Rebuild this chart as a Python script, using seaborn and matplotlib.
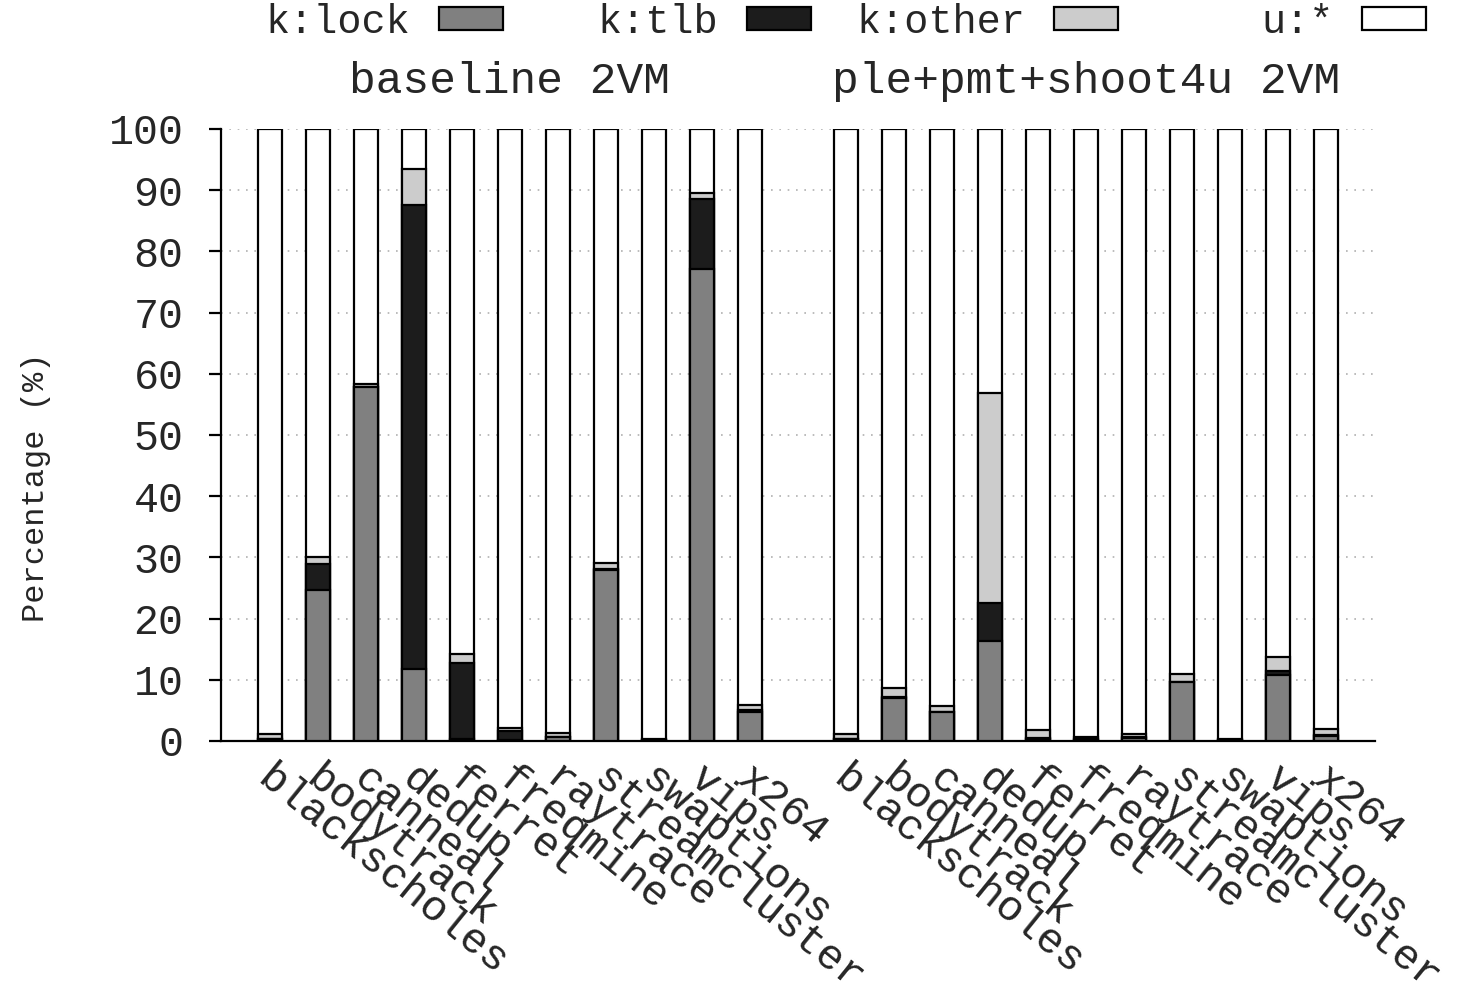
import numpy as np
import pandas as pd
import seaborn as sns
import matplotlib.pyplot as plt
from matplotlib.patches import Patch
from matplotlib.transforms import blended_transform_factory, ScaledTranslation

benchmarks = ["blackscholes", "bodytrack", "canneal", "dedup", "ferret", "freqmine",
              "raytrace", "streamcluster", "swaptions", "vips", "x264"]
groups = ["baseline 2VM", "ple+pmt+shoot4u 2VM"]

# percentages (u:* is the rest up to 100)
base_lock = [0.3, 24.7, 57.8, 11.7, 0.3, 0.1, 0.6, 27.9, 0.1, 77.2, 4.8]
base_tlb = [0.1, 4.3, 0.1, 75.9, 12.5, 1.6, 0.1, 0.2, 0.1, 11.4, 0.2]
base_other = [0.8, 1.0, 0.4, 5.8, 1.4, 0.5, 0.6, 1.0, 0.1, 0.9, 0.9]

ple_lock = [0.3, 7.1, 4.7, 16.3, 0.4, 0.2, 0.5, 9.6, 0.1, 10.8, 0.8]
ple_tlb = [0.1, 0.1, 0.1, 6.2, 0.1, 0.1, 0.1, 0.1, 0.1, 0.6, 0.1]
ple_other = [0.8, 1.4, 0.9, 34.3, 1.3, 0.3, 0.6, 1.2, 0.2, 2.4, 1.1]

colors = {"k:lock": "#808080", "k:tlb": "#1c1c1c", "k:other": "#cccccc", "u:*": "#ffffff"}

# one empty slot between the two groups
n = len(benchmarks)
pos = list(range(n)) + list(range(n + 1, 2 * n + 1))

df = pd.DataFrame({
    "pos": pos,
    "name": benchmarks * 2,
    "lock": base_lock + ple_lock,
    "tlb": base_tlb + ple_tlb,
    "other": base_other + ple_other,
})
df["c_lock"] = df["lock"]
df["c_tlb"] = df["c_lock"] + df["tlb"]
df["c_other"] = df["c_tlb"] + df["other"]
df["c_user"] = 100.0

sns.set_theme(style="white")
plt.rcParams["font.family"] = ["Liberation Mono", "DejaVu Sans Mono"]

fig = plt.figure(figsize=(14.61, 10.06), dpi=100)
ax = fig.add_axes([221 / 1461, 1 - 741 / 1006, (1375 - 221) / 1461, 612 / 1006])

# stacked bars drawn as overlays, tallest first
for col, key in [("c_user", "u:*"), ("c_other", "k:other"), ("c_tlb", "k:tlb"), ("c_lock", "k:lock")]:
    sns.barplot(data=df, x="pos", y=col, native_scale=True, orient="x", width=0.5,
                color=colors[key], saturation=1, edgecolor="black", linewidth=1.6,
                ax=ax, zorder=3)

ax.set_xlim(-1.02, 2 * n + 1.02)
ax.set_ylim(0, 100)
ax.set_yticks(np.arange(0, 101, 10))
ax.tick_params(axis="y", labelsize=30, length=9, width=1.6, pad=18, left=True, color="black")
ax.set_xticks(pos)
ax.set_xticklabels(df["name"], rotation=-39, ha="left", va="top",
                   rotation_mode="anchor", fontsize=31)
ax.tick_params(axis="x", length=0, pad=12)
shift = ScaledTranslation(5 / 100, 0, fig.dpi_scale_trans)
for lbl in ax.get_xticklabels():
    lbl.set_transform(lbl.get_transform() + shift)
ax.set_xlabel("")
ax.set_ylabel("Percentage (%)", fontsize=23)
ax.yaxis.set_label_coords(-0.147, 0.415)

ax.yaxis.grid(True, linestyle=(0, (1, 4)), color="#b0b0b0", linewidth=1.2)
ax.xaxis.grid(False)
ax.set_axisbelow(True)
for side in ["top", "right"]:
    ax.spines[side].set_visible(False)
for side in ["left", "bottom"]:
    ax.spines[side].set_color("black")
    ax.spines[side].set_linewidth(1.6)

trans = blended_transform_factory(ax.transData, ax.transAxes)
ax.text(5, 1.077, groups[0], transform=trans, ha="center", va="center", fontsize=32)
ax.text(n + 1 + 5, 1.077, groups[1], transform=trans, ha="center", va="center", fontsize=32)

legend_right = [503, 811, 1118, 1426]
for key, xr in zip(colors, legend_right):
    fig.legend(handles=[Patch(facecolor=colors[key], edgecolor="black", linewidth=1.6, label=key)],
               loc="center right", bbox_to_anchor=(xr / 1461, 1 - 22 / 1006),
               frameon=False, markerfirst=False, fontsize=29, borderpad=0,
               borderaxespad=0, handletextpad=0.7, handlelength=1.6, handleheight=0.5)

fig.savefig("out.png", dpi=100)
